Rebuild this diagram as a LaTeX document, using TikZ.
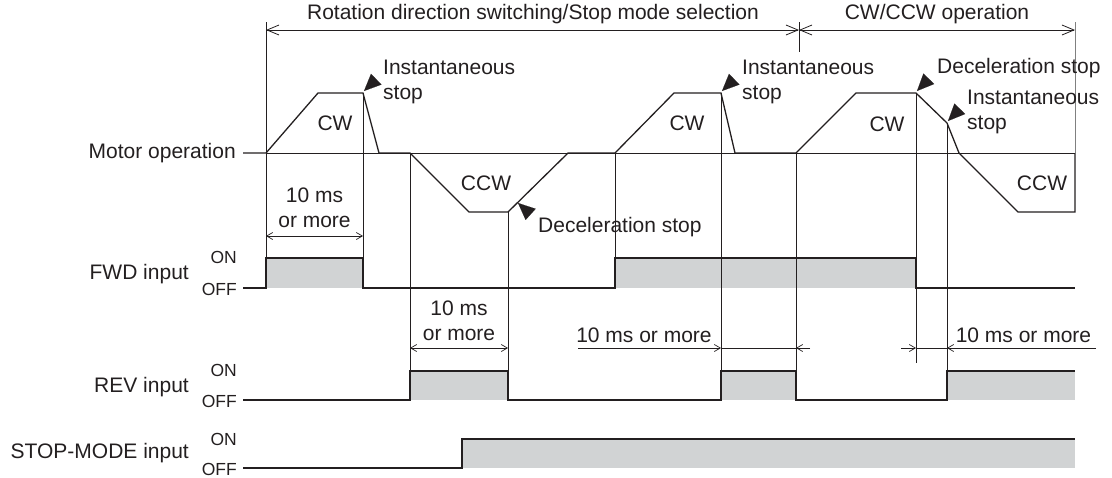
\documentclass[tikz,border=0pt]{standalone}
\usepackage{fontspec}
\setmainfont{Liberation Sans}
\usetikzlibrary{arrows.meta,positioning}
\definecolor{ink}{RGB}{35,31,32}
\definecolor{onfill}{RGB}{209,211,212}
\newcommand{\stopmark}[2]{\draw[stoptip] ([shift={(#2:17pt)}]#1) -- (#1);}

\begin{document}
\begin{tikzpicture}[x=1pt, y=-1pt,
  txt/.style={inner sep=0pt, font=\fontsize{21pt}{25pt}\selectfont, text=ink},
  lvl/.style={inner sep=0pt, anchor=east, font=\fontsize{17.5pt}{20pt}\selectfont, text=ink},
  prof/.style={draw=ink, line width=1.3pt},
  sig/.style={draw=ink, line width=1.2pt},
  ref/.style={draw=ink, line width=0.8pt},
  dimtop/.style={draw=ink, line width=0.8pt,
    {Straight Barb[length=12pt,width=10pt]}-{Straight Barb[length=12pt,width=10pt]}},
  dim/.style={draw=ink, line width=0.7pt,
    {Straight Barb[length=6pt,width=7pt]}-{Straight Barb[length=6pt,width=7pt]}},
  dimin/.style={draw=ink, line width=0.7pt, -{Straight Barb[length=6pt,width=7pt]}},
  stoptip/.style={draw=ink, line width=0.1pt, -{Triangle[length=17pt,width=15pt]}},
  on/.style={fill=onfill}]
  \useasboundingbox (0,0) rectangle (1112,477);

  % time marks
  \coordinate (t1) at (266,0);  \coordinate (t2) at (363,0);
  \coordinate (t3) at (410,0);  \coordinate (t4) at (508,0);
  \coordinate (t5) at (615,0);  \coordinate (t6) at (721,0);
  \coordinate (t7) at (796,0);  \coordinate (t8) at (916,0);
  \coordinate (t9) at (947,0);  \coordinate (tm) at (799,0);
  \coordinate (te) at (1075,0);

  % ON areas
  \fill[on] (266,258) rectangle (363,288);
  \fill[on] (615,258) rectangle (916,288);
  \fill[on] (410,371) rectangle (508,400);
  \fill[on] (721,371) rectangle (796,400);
  \fill[on] (947,371) rectangle (1075,400);
  \fill[on] (462,439) rectangle (1075,468);

  % reference lines
  \draw[ref] (266,153) -- (1075,153);
  \draw[ref] (t1 |- 0,22) -- (t1 |- 0,288);
  \draw[ref] (tm |- 0,22) -- (tm |- 0,52);
  \draw[ref, draw=gray] (te |- 0,22) -- (te |- 0,153);
  \draw[ref] (t2 |- 0,93) -- (t2 |- 0,288);
  \draw[ref] (t3 |- 0,153) -- (t3 |- 0,400);
  \draw[ref] (t4 |- 0,212) -- (t4 |- 0,400);
  \draw[ref] (t5 |- 0,153) -- (t5 |- 0,288);
  \draw[ref] (t6 |- 0,93) -- (t6 |- 0,400);
  \draw[ref] (t7 |- 0,153) -- (t7 |- 0,400);
  \draw[ref] (t8 |- 0,93) -- (t8 |- 0,363);
  \draw[ref] (t9 |- 0,123) -- (t9 |- 0,400);

  % motor operation
  \draw[prof] (243,153) -- (266,153) -- (318,93) -- (363,93) -- (379,153) -- (410,153)
    -- (469,212) -- (508,212) -- (568,153) -- (615,153) -- (674,93) -- (721,93)
    -- (735,153) -- (796,153) -- (856,93) -- (916,93) -- (947,123) -- (959,153)
    -- (1018,212) -- (1075,212) -- (1075,153);

  % inputs
  \draw[sig] (243,288) -- (266,288) -- (266,258) -- (363,258) -- (363,288) -- (615,288)
    -- (615,258) -- (916,258) -- (916,288) -- (1075,288);
  \draw[sig] (243,400) -- (410,400) -- (410,371) -- (508,371) -- (508,400) -- (721,400)
    -- (721,371) -- (796,371) -- (796,400) -- (947,400) -- (947,371) -- (1075,371);
  \draw[sig] (243,468) -- (462,468) -- (462,439) -- (1075,439);

  % row labels
  \node[txt, anchor=east] (motor) at (236,153) {Motor operation};
  \node[txt, anchor=east] (fwd) at (189,274) {FWD input};
  \node[lvl] (fwdon) at (237,257) {ON};
  \node[lvl] (fwdoff) at (237,289) {OFF};
  \node[txt, anchor=east] (rev) at (189,387) {REV input};
  \node[lvl] (revon) at (237,370) {ON};
  \node[lvl] (revoff) at (237,401) {OFF};
  \node[txt, anchor=east] (stopmode) at (189,453) {STOP-MODE input};
  \node[lvl] (stopon) at (237,439) {ON};
  \node[lvl] (stopoff) at (237,469) {OFF};

  % top dimensions
  \draw[dimtop] (t1 |- 0,30) -- (tm |- 0,30);
  \draw[dimtop] (tm |- 0,30) -- (te |- 0,30);
  \node[txt] (select) at (533,14) {Rotation direction switching/Stop mode selection};
  \node[txt] (cwccw) at (937,14) {CW/CCW operation};

  % direction labels
  \node[txt] (cw1) at (335,123) {CW};
  \node[txt] (ccw1) at (486,183) {CCW};
  \node[txt] (cw2) at (687,123) {CW};
  \node[txt] (cw3) at (887,124) {CW};
  \node[txt] (ccw2) at (1042,183) {CCW};

  % stop notes
  \node[txt, anchor=west, align=left] (inst1) at (383,82) {Instantaneous\\stop};
  \node[txt, anchor=west, align=left] (inst2) at (742,82) {Instantaneous\\stop};
  \node[txt, anchor=west] (decel1) at (937,68) {Deceleration stop};
  \node[txt, anchor=west, align=left] (inst3) at (967,112) {Instantaneous\\stop};
  \node[txt, anchor=west] (decel2) at (538,227) {Deceleration stop};
  \stopmark{364,91}{44}
  \stopmark{722,91}{44}
  \stopmark{917,91}{46}
  \stopmark{948,121}{46}
  \stopmark{518,203}{-42}

  % 10 ms dimensions
  \draw[dim] (t1 |- 0,236) -- (t2 |- 0,236);
  \node[txt, align=center] (wait1) at (314.5,207.5) {10 ms\\or more};
  \draw[dim] (t3 |- 0,348) -- (t4 |- 0,348);
  \node[txt, align=center] (wait2) at (459,321) {10 ms\\or more};
  \draw[dimin] (578,348) -- (t6 |- 0,348);
  \draw[ref, line width=0.7pt] (t6 |- 0,348) -- (t7 |- 0,348);
  \draw[dimin] (810,348) -- (t7 |- 0,348);
  \node[txt] (wait3) at (644,335) {10 ms or more};
  \draw[dimin] (901,348) -- (t8 |- 0,348);
  \draw[ref, line width=0.7pt] (t8 |- 0,348) -- (t9 |- 0,348);
  \draw[dimin] (1096,348) -- (t9 |- 0,348);
  \node[txt] (wait4) at (1023.5,335) {10 ms or more};
\end{tikzpicture}
\end{document}
